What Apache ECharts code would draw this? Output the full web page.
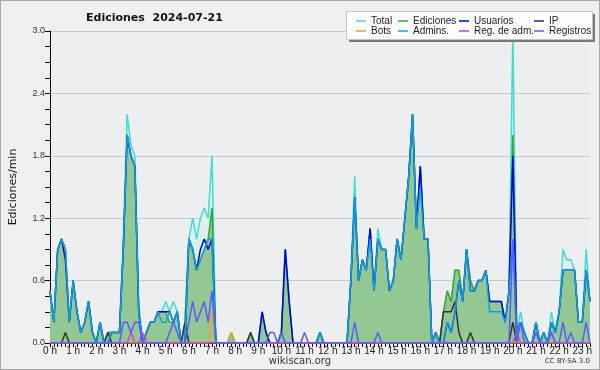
<!DOCTYPE html>
<html><head><meta charset="utf-8">
<script src="https://cdn.jsdelivr.net/npm/echarts@6/dist/echarts.min.js"></script>
<style>html,body{margin:0;padding:0;background:#f0f0f0}#c{width:600px;height:370px}</style>
</head><body><div id="c"></div>
<script>
// Hour tick labels (one category every 10 minutes, 0:00 .. 23:20)
const hourLabels = ['0 h','1 h','2 h','3 h','4 h','5 h','6 h','7 h','8 h','9 h','10 h','11 h',
  '12 h','13 h','14 h','15 h','16 h','17 h','18 h','19 h','20 h','21 h','22 h','23 h'];
const yTicks = [0, 0.6, 1.2, 1.8, 2.4, 3.0];
const seriesNames = ['Total','Ediciones','Usuarios','IP','Bots','Admins.','Reg. de adm.','Registros'];

// values in edits/min, six per hour
const total = [
 0.5,0.2,0.9,1.0,0.9,0.2, 0.6,0.3,0.1,0.2,0.4,0.1, 0.0,0.2,0.0,0.1,0.1,0.1,
 0.1,1.0,2.2,1.9,1.8,0.4, 0.0,0.1,0.2,0.2,0.3,0.3, 0.4,0.3,0.4,0.3,0.0,0.2,
 1.0,1.2,1.0,1.2,1.3,1.2, 1.8,0.0,0.0,0.0,0.0,0.1, 0.0,0.0,0.0,0.0,0.1,0.0,
 0.0,0.3,0.1,0.0,0.0,0.0, 0.1,0.9,0.4,0.0,0.0,0.0, 0.0,0.0,0.0,0.0,0.1,0.0,
 0.0,0.0,0.0,0.0,0.0,0.0, 0.6,1.6,0.6,0.8,0.7,1.1, 0.5,1.1,0.9,0.9,0.5,0.6,
 1.0,0.8,1.2,1.6,2.2,1.1, 1.7,1.0,1.0,0.0,0.1,0.0, 0.3,0.5,0.4,0.7,0.7,0.4,
 0.9,0.6,0.5,0.6,0.6,0.7, 0.4,0.4,0.4,0.4,0.2,0.5, 3.0,0.1,0.3,0.1,0.0,0.0,
 0.2,0.0,0.1,0.0,0.3,0.1, 0.3,0.9,0.8,0.8,0.7,0.2, 0.2,0.9,0.4];
const ediciones = [
 0.5,0.2,0.9,1.0,0.9,0.2, 0.6,0.3,0.1,0.2,0.4,0.1, 0.0,0.2,0.0,0.1,0.1,0.1,
 0.1,0.9,2.0,1.8,1.7,0.3, 0.0,0.1,0.2,0.2,0.3,0.3, 0.3,0.2,0.2,0.3,0.0,0.2,
 1.0,0.9,0.7,0.8,0.9,1.0, 1.3,0.0,0.0,0.0,0.0,0.1, 0.0,0.0,0.0,0.0,0.1,0.0,
 0.0,0.3,0.1,0.0,0.0,0.0, 0.1,0.9,0.4,0.0,0.0,0.0, 0.0,0.0,0.0,0.0,0.1,0.0,
 0.0,0.0,0.0,0.0,0.0,0.0, 0.6,1.4,0.6,0.8,0.7,1.1, 0.5,1.0,0.9,0.9,0.5,0.6,
 1.0,0.8,1.2,1.6,2.2,1.1, 1.7,1.0,1.0,0.0,0.1,0.0, 0.3,0.5,0.4,0.7,0.7,0.4,
 0.9,0.6,0.5,0.6,0.6,0.7, 0.4,0.4,0.4,0.4,0.2,0.5, 2.0,0.1,0.2,0.1,0.0,0.0,
 0.2,0.0,0.1,0.0,0.2,0.1, 0.3,0.7,0.7,0.7,0.7,0.2, 0.2,0.7,0.4];
const usuarios = [
 0.5,0.2,0.9,1.0,0.8,0.2, 0.6,0.3,0.1,0.2,0.4,0.1, 0.0,0.2,0.0,0.0,0.1,0.1,
 0.1,0.9,2.0,1.8,1.7,0.3, 0.0,0.1,0.2,0.2,0.3,0.3, 0.3,0.3,0.2,0.3,0.0,0.0,
 1.0,0.9,0.7,0.9,1.0,0.9, 1.0,0.0,0.0,0.0,0.0,0.0, 0.0,0.0,0.0,0.0,0.0,0.0,
 0.0,0.3,0.1,0.0,0.0,0.0, 0.1,0.9,0.4,0.0,0.0,0.0, 0.0,0.0,0.0,0.0,0.1,0.0,
 0.0,0.0,0.0,0.0,0.0,0.0, 0.6,1.4,0.6,0.8,0.7,1.1, 0.5,1.0,0.9,0.9,0.5,0.6,
 1.0,0.8,1.2,1.6,2.2,1.1, 1.7,1.0,1.0,0.0,0.1,0.0, 0.0,0.2,0.1,0.3,0.6,0.4,
 0.9,0.5,0.5,0.6,0.6,0.7, 0.4,0.4,0.4,0.4,0.2,0.5, 1.8,0.1,0.2,0.1,0.0,0.0,
 0.2,0.0,0.1,0.0,0.2,0.1, 0.3,0.7,0.7,0.7,0.7,0.2, 0.2,0.7,0.4];
const ip = [
 0,0,0,0,0.1,0, 0,0,0,0,0,0, 0,0,0,0.1,0,0,
 0,0,0,0,0,0, 0,0,0,0,0,0, 0,0,0,0,0,0.2,
 0,0,0,0,0,0, 0,0,0,0,0,0, 0,0,0,0,0.1,0,
 0,0,0,0,0,0, 0,0,0,0,0,0, 0,0,0,0,0,0,
 0,0,0,0,0,0, 0,0,0,0,0,0, 0,0,0,0,0,0,
 0,0,0,0,0,0, 0,0,0,0,0,0, 0.3,0.3,0.3,0.4,0.1,0,
 0,0.1,0,0,0,0, 0,0,0,0,0,0, 0.2,0,0,0,0,0,
 0,0,0,0,0,0, 0,0,0,0,0,0, 0,0,0];
const bots = [
 0,0,0,0,0,0, 0,0,0,0,0,0, 0,0,0,0,0,0,
 0,0,0,0,0,0, 0,0,0,0,0,0, 0,0,0,0,0,0,
 0,0,0,0,0,0, 0.3,0,0,0,0,0.1, 0,0,0,0,0,0,
 0,0,0,0,0,0, 0,0,0,0,0,0, 0,0,0,0,0,0,
 0,0,0,0,0,0, 0,0,0,0,0,0, 0,0,0,0,0,0,
 0,0,0,0,0,0, 0,0,0,0,0,0, 0,0,0,0,0,0,
 0,0,0,0,0,0, 0,0,0,0,0,0, 0,0,0,0,0,0,
 0,0,0,0,0,0, 0,0,0,0,0,0, 0,0,0];
const admins = [
 0.5,0.2,0.9,1.0,0.9,0.2, 0.6,0.3,0.1,0.2,0.4,0.1, 0.0,0.2,0.0,0.0,0.1,0.1,
 0.1,0.9,2.0,1.8,1.7,0.3, 0.0,0.1,0.2,0.2,0.3,0.2, 0.2,0.3,0.2,0.3,0.0,0.0,
 1.0,0.9,0.7,0.8,0.9,1.0, 1.0,0.0,0.0,0.0,0.0,0.0, 0.0,0.0,0.0,0.0,0.0,0.0,
 0.0,0.0,0.0,0.0,0.0,0.0, 0.1,0.0,0.0,0.0,0.0,0.0, 0.0,0.0,0.0,0.0,0.1,0.0,
 0.0,0.0,0.0,0.0,0.0,0.0, 0.6,1.4,0.6,0.8,0.7,1.0, 0.5,1.0,0.9,0.9,0.5,0.6,
 1.0,0.8,1.2,1.6,2.2,1.1, 1.5,1.0,1.0,0.0,0.1,0.0, 0.0,0.2,0.1,0.3,0.6,0.4,
 0.9,0.5,0.5,0.6,0.6,0.7, 0.3,0.3,0.3,0.3,0.2,0.5, 1.0,0.1,0.2,0.1,0.0,0.0,
 0.2,0.0,0.1,0.0,0.2,0.1, 0.3,0.7,0.7,0.7,0.7,0.2, 0.2,0.7,0.4];
const regAdm = [
 0,0,0,0,0,0, 0,0,0,0,0,0, 0,0,0,0,0,0,
 0,0,0,0.1,0,0, 0.1,0,0,0,0,0, 0,0,0,0,0,0,
 0,0,0,0,0,0, 0,0,0,0,0,0, 0,0,0,0,0,0,
 0,0,0,0,0,0, 0,0,0,0,0,0, 0,0,0,0,0,0,
 0,0,0,0,0,0, 0,0,0,0,0,0, 0,0,0,0,0,0,
 0,0,0,0,0,0, 0,0,0,0,0,0, 0,0,0,0,0,0,
 0,0,0,0,0,0, 0,0,0,0,0,0, 0,0.1,0,0,0,0,
 0,0,0,0,0.1,0, 0,0,0,0,0,0, 0,0,0];
const registros = [
 0,0,0,0,0,0, 0,0,0,0,0,0, 0,0,0,0,0,0,
 0,0.2,0.2,0.1,0.2,0.2, 0,0,0,0,0,0, 0,0.1,0.2,0.1,0,0,
 0.2,0.4,0.2,0.3,0.4,0.2, 0.5,0,0,0,0,0, 0,0,0,0,0,0,
 0,0,0,0.1,0.1,0, 0.1,0,0,0,0,0, 0.1,0,0,0,0,0,
 0,0,0,0,0,0, 0,0.2,0,0,0,0, 0,0.1,0,0,0,0,
 0,0,0,0,0,0, 0,0,0,0,0,0, 0,0,0,0,0,0,
 0,0,0,0,0,0, 0,0,0,0,0,0, 1.0,0,0.2,0,0,0,
 0.1,0,0,0,0.1,0, 0,0.2,0,0.1,0,0, 0,0.2,0];

const cats = [];
hourLabels.forEach((h, i) => { for (let m = 0; m < 6; m++) cats.push(h + (m ? ':' + m + '0' : '')); });
cats.length = total.length;

const colors = ['#40dcd0','#35a835','#0000dd','#333333','#f0a030','#10a0e0','#cc44dd','#5a5aff'];
const data = [total, ediciones, usuarios, ip, bots, admins, regAdm, registros];

const chart = echarts.init(document.getElementById('c'), null, {renderer: 'canvas'});
const FONT = 'DejaVu Sans';
const series = seriesNames.map((n, k) => {
  const s = {
    name: n, type: 'line', data: data[k], showSymbol: false, symbol: 'none',
    lineStyle: {width: 1.5, color: colors[k]}, itemStyle: {color: colors[k]},
    animation: false, z: 2 + k
  };
  if (k === 0) s.areaStyle = {color: '#dcf1ee', opacity: 1};
  if (k === 1) s.areaStyle = {color: '#93c893', opacity: 1};
  return s;
});
const legendCols = [[0,4],[1,5],[2,6],[3,7]];
const legendLeft = [351, 393, 454, 529];
const legends = legendCols.map((c, i) => ({
  data: c.map(k => seriesNames[k]), left: legendLeft[i], top: 11, orient: 'vertical',
  icon: 'rect', itemWidth: 10, itemHeight: 1.5, itemGap: 0, selectedMode: false,
  textStyle: {fontFamily: 'Liberation Sans', fontSize: 10, color: '#222', lineHeight: 10, padding: [0,0,0,0]},
  z: 10
}));

chart.setOption({
  backgroundColor: '#f0f0f0',
  animation: false,
  color: colors,
  title: {text: 'Ediciones  2024-07-21', left: 81, top: 8,
    textStyle: {fontFamily: FONT, fontSize: 11, fontWeight: 'bold', color: '#111'}},
  legend: legends,
  grid: {left: 46, right: 10, top: 31, bottom: 27, show: true, backgroundColor: '#eceef0', borderWidth: 0},
  xAxis: {
    type: 'category', data: cats, boundaryGap: false,
    axisLine: {lineStyle: {color: '#000', width: 1}},
    axisTick: {interval: 0, length: 4, lineStyle: {color: '#000'}},
    axisLabel: {interval: 5, margin: 3, fontFamily: 'Liberation Sans', fontSize: 10, color: '#222',
      formatter: (v, i) => (i % 6 === 0 ? hourLabels[i / 6] : '')},
    splitLine: {show: false}
  },
  yAxis: {
    type: 'value', min: yTicks[0], max: yTicks[yTicks.length - 1], interval: 0.6,
    name: 'Ediciones/min', nameLocation: 'middle', nameRotate: 90, nameGap: 31,
    nameTextStyle: {fontFamily: FONT, fontSize: 11, color: '#111'},
    axisLine: {show: true, lineStyle: {color: '#000'}},
    axisTick: {show: true, length: 5, lineStyle: {color: '#000'}},
    minorTick: {show: true, splitNumber: 4, length: 5, lineStyle: {color: '#000'}},
    axisLabel: {margin: 5, fontFamily: 'Liberation Sans', fontSize: 9, color: '#333',
      formatter: v => v.toFixed(1)},
    splitLine: {show: true, lineStyle: {color: '#c8c8c8', width: 1}}
  },
  graphic: [
    {type: 'rect', shape: {x: 0.5, y: 0.5, width: 599, height: 369}, style: {fill: 'none', stroke: '#a8a8a8'}, z: 100, silent: true},
    {type: 'rect', shape: {x: 349, y: 14, width: 246, height: 28}, style: {fill: '#7a7a7a'}, z: 8},
    {type: 'rect', shape: {x: 346.5, y: 11.5, width: 246, height: 28}, style: {fill: '#fdfdfd', stroke: '#c4c4c4'}, z: 9},
    {type: 'text', left: 'center', top: 356, style: {text: 'wikiscan.org', font: '10px "DejaVu Sans"', fill: '#333'}},
    {type: 'text', right: 10, top: 358, style: {text: 'CC BY-SA 3.0', font: '7px "DejaVu Sans"', fill: '#333'}}
  ],
  series: series
});
</script></body></html>
